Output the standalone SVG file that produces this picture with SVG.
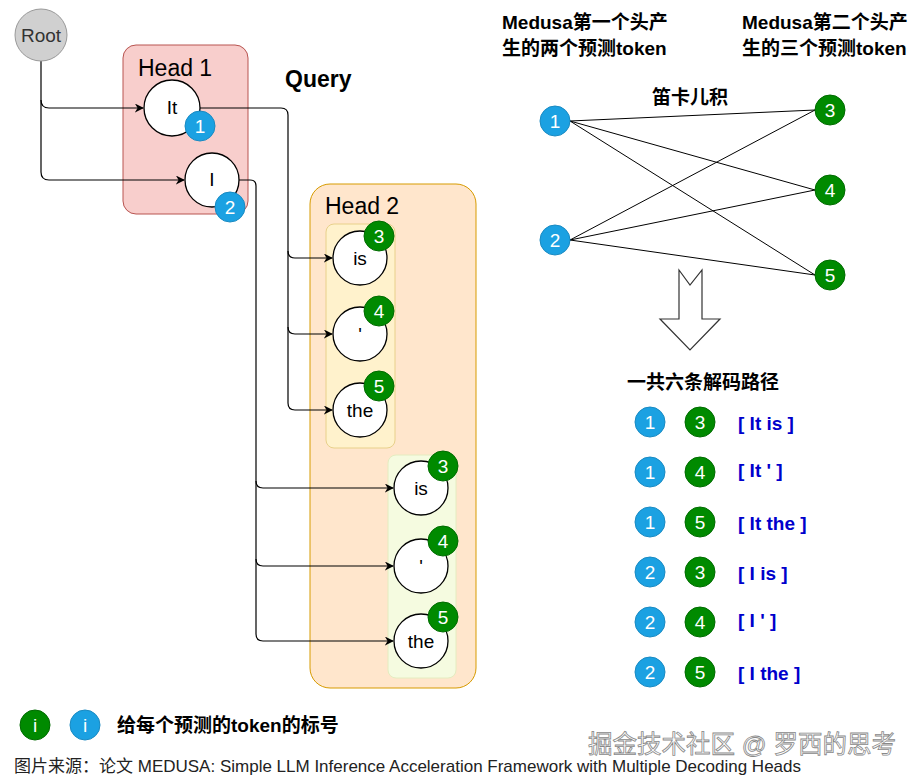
<svg xmlns="http://www.w3.org/2000/svg" width="921" height="781" viewBox="0 0 921 781">
<defs>
<marker id="ah" viewBox="0 0 10 10" refX="9" refY="5" markerWidth="9" markerHeight="9" markerUnits="userSpaceOnUse" orient="auto">
<path d="M0,0 L10,5 L0,10 L3,5 Z" fill="#000"/>
</marker>
<style>
text{font-family:"Liberation Sans","Noto Sans CJK SC",sans-serif;}
.tok{fill:#fff;stroke:#000;stroke-width:1.3;}
.tt{font-size:19px;text-anchor:middle;fill:#000;}
.b{fill:#1ba1e2;stroke:#1a8ac2;stroke-width:1;}
.g{fill:#008a00;stroke:#006b00;stroke-width:1;}
.bt{font-size:19px;fill:#fff;text-anchor:middle;}
.hd{font-size:23px;fill:#000;}
.cn{font-size:19px;font-weight:bold;fill:#000;}
.pt{font-size:19px;font-weight:bold;fill:#0000cc;}
.ln{fill:none;stroke:#000;stroke-width:1.2;}
.cx{stroke:#000;stroke-width:1;}
</style>
</defs>
<rect width="921" height="781" fill="#fff"/>

<g id="head1">
<rect x="123" y="45" width="125" height="169" rx="13" fill="#f8cecc" stroke="#b85450" stroke-width="1"/>
<text class="hd" x="138" y="76">Head 1</text>
</g>
<g id="head2">
<rect x="310" y="184" width="166" height="504" rx="20" fill="#ffe6cc" stroke="#d79b00" stroke-width="1"/>
<text class="hd" x="325" y="214">Head 2</text>
<rect x="326" y="224" width="69" height="224" rx="8" fill="#fff2cc" stroke="#e8d08a" stroke-width="1"/>
<rect x="388" y="455" width="68" height="223" rx="8" fill="#f5fbe0" stroke="#e4ecc0" stroke-width="1"/>
</g>
<text x="285" y="87" font-size="23" font-weight="bold" fill="#000">Query</text>

<g id="connectors">
<path class="ln" d="M41,61 V100 Q41,108 49,108 H143" marker-end="url(#ah)"/>
<path class="ln" d="M41,100 V172 Q41,180 49,180 H184" marker-end="url(#ah)"/>
<path class="ln" d="M200,108 H281 Q288,108 288,115 V251 Q288,258 295,258 H332" marker-end="url(#ah)"/>
<path class="ln" d="M288,251 V327 Q288,334 295,334 H332" marker-end="url(#ah)"/>
<path class="ln" d="M288,327 V403 Q288,410 295,410 H332" marker-end="url(#ah)"/>
<path class="ln" d="M239,180 H250 Q256,180 256,186 V481 Q256,488 263,488 H393" marker-end="url(#ah)"/>
<path class="ln" d="M256,481 V559 Q256,566 263,566 H393" marker-end="url(#ah)"/>
<path class="ln" d="M256,559 V634 Q256,641 263,641 H393" marker-end="url(#ah)"/>
<line class="cx" x1="570" y1="121" x2="815" y2="110"/>
<line class="cx" x1="570" y1="121" x2="815" y2="190"/>
<line class="cx" x1="570" y1="121" x2="815" y2="275"/>
<line class="cx" x1="570" y1="240" x2="815" y2="110"/>
<line class="cx" x1="570" y1="240" x2="815" y2="190"/>
<line class="cx" x1="570" y1="240" x2="815" y2="275"/>
</g>

<g id="root">
<circle cx="41" cy="35" r="26" fill="#d0d0d0" stroke="#999" stroke-width="1"/>
<text x="41" y="42" font-size="19" text-anchor="middle" fill="#333">Root</text>
</g>
<g id="tok-it">
<circle class="tok" cx="172" cy="108" r="28"/>
<text class="tt" x="172" y="114">It</text>
<circle class="b" cx="200" cy="126" r="15"/><text class="bt" x="200" y="133">1</text>
</g>
<g id="tok-i">
<circle class="tok" cx="212" cy="180" r="27"/>
<text class="tt" x="212" y="186">I</text>
<circle class="b" cx="230" cy="207" r="15"/><text class="bt" x="230" y="214">2</text>
</g>
<g id="tok-is-a">
<circle class="tok" cx="360" cy="258" r="27"/><text class="tt" x="360" y="265">is</text>
<circle class="g" cx="379" cy="236" r="15"/><text class="bt" x="379" y="243">3</text>
</g>
<g id="tok-ap-a">
<circle class="tok" cx="360" cy="334" r="27"/><text class="tt" x="360" y="341">'</text>
<circle class="g" cx="379" cy="311" r="15"/><text class="bt" x="379" y="318">4</text>
</g>
<g id="tok-the-a">
<circle class="tok" cx="360" cy="410" r="27"/><text class="tt" x="360" y="417">the</text>
<circle class="g" cx="379" cy="386" r="15"/><text class="bt" x="379" y="393">5</text>
</g>
<g id="tok-is-b">
<circle class="tok" cx="421" cy="488" r="27"/><text class="tt" x="421" y="495">is</text>
<circle class="g" cx="443" cy="466" r="15"/><text class="bt" x="443" y="473">3</text>
</g>
<g id="tok-ap-b">
<circle class="tok" cx="421" cy="566" r="27"/><text class="tt" x="421" y="573">'</text>
<circle class="g" cx="443" cy="541" r="15"/><text class="bt" x="443" y="548">4</text>
</g>
<g id="tok-the-b">
<circle class="tok" cx="421" cy="641" r="27"/><text class="tt" x="421" y="648">the</text>
<circle class="g" cx="443" cy="617" r="15"/><text class="bt" x="443" y="624">5</text>
</g>

<g id="headers">
<text class="cn" x="502" y="29" font-size="19.5">Medusa第一个头产</text>
<text class="cn" x="502" y="55" font-size="19.5">生的两个预测token</text>
<text class="cn" x="742" y="29" font-size="19.5">Medusa第二个头产</text>
<text class="cn" x="742" y="55" font-size="19.5">生的三个预测token</text>
<text class="cn" x="652" y="104">笛卡儿积</text>
</g>
<g id="n1"><circle class="b" cx="555" cy="121" r="15"/><text class="bt" x="555" y="128">1</text></g>
<g id="n2"><circle class="b" cx="555" cy="240" r="15"/><text class="bt" x="555" y="247">2</text></g>
<g id="n3"><circle class="g" cx="830" cy="110" r="15"/><text class="bt" x="830" y="117">3</text></g>
<g id="n4"><circle class="g" cx="830" cy="190" r="15"/><text class="bt" x="830" y="197">4</text></g>
<g id="n5"><circle class="g" cx="830" cy="275" r="15"/><text class="bt" x="830" y="282">5</text></g>

<g id="down-arrow">
<polygon points="679,270 690,285 702,270 702,319 720,319 690,350 660,319 679,319" fill="#fff" stroke="#333" stroke-width="1.2"/>
</g>

<g id="paths">
<text class="cn" x="627" y="389" font-size="20">一共六条解码路径</text>
<circle class="b" cx="650" cy="422" r="15"/><text class="bt" x="650" y="429">1</text>
<circle class="g" cx="700" cy="422" r="15"/><text class="bt" x="700" y="429">3</text>
<text class="pt" x="738" y="430">[ It is ]</text>
<circle class="b" cx="650" cy="472" r="15"/><text class="bt" x="650" y="479">1</text>
<circle class="g" cx="700" cy="472" r="15"/><text class="bt" x="700" y="479">4</text>
<text class="pt" x="738" y="477">[ It ' ]</text>
<circle class="b" cx="650" cy="522" r="15"/><text class="bt" x="650" y="529">1</text>
<circle class="g" cx="700" cy="522" r="15"/><text class="bt" x="700" y="529">5</text>
<text class="pt" x="738" y="530">[ It the ]</text>
<circle class="b" cx="650" cy="572" r="15"/><text class="bt" x="650" y="579">2</text>
<circle class="g" cx="700" cy="572" r="15"/><text class="bt" x="700" y="579">3</text>
<text class="pt" x="738" y="580">[ I is ]</text>
<circle class="b" cx="650" cy="622" r="15"/><text class="bt" x="650" y="629">2</text>
<circle class="g" cx="700" cy="622" r="15"/><text class="bt" x="700" y="629">4</text>
<text class="pt" x="738" y="627">[ I ' ]</text>
<circle class="b" cx="650" cy="672" r="15"/><text class="bt" x="650" y="679">2</text>
<circle class="g" cx="700" cy="672" r="15"/><text class="bt" x="700" y="679">5</text>
<text class="pt" x="738" y="680">[ I the ]</text>
</g>

<g id="legend">
<circle class="g" cx="35" cy="725" r="15"/><text class="bt" x="35" y="732">i</text>
<circle class="b" cx="85" cy="725" r="15"/><text class="bt" x="85" y="732">i</text>
<text class="cn" x="117" y="732" font-size="18.5">给每个预测的token的标号</text>
</g>
<text x="588" y="753" font-size="24.5" fill="#fff" stroke="#888" stroke-width="0.8">掘金技术社区 @ 罗西的思考</text>
<text x="14" y="772" font-size="17" fill="#222">图片来源：论文 MEDUSA: Simple LLM Inference Acceleration Framework with Multiple Decoding Heads</text>
</svg>
